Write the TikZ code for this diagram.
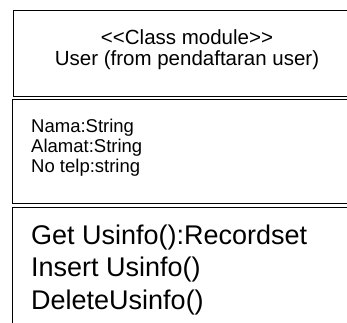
\documentclass[tikz,border=0pt]{standalone}
\usepackage{fontspec}
\setmainfont{Liberation Sans}
\begin{document}
\begin{tikzpicture}[x=1pt,y=-1pt]
\tikzset{compart/.style={draw, line width=1.3pt, anchor=north west, inner sep=0pt},
  comptext/.style={inner sep=0pt, anchor=base west, align=left}}
\useasboundingbox (0,0) rectangle (347,322);
\clip (0,0) rectangle (347,322);
\node[compart, minimum width=348pt, minimum height=86pt] (head) at (13,10) {};
\node[compart, minimum width=349pt, minimum height=104pt] (attrs) at (12,99) {};
\node[compart, minimum width=349pt, minimum height=130pt] (ops) at (12,207) {};
\node[comptext, anchor=base, align=center, font=\fontsize{20.5}{21}\selectfont] (headtext) at (187,65) {<{}<Class module>{}>\\User (from pendaftaran user)};
\node[comptext, font=\fontsize{18.5}{20}\selectfont] (attrstext) at (31,172) {Nama:String\\Alamat:String\\No telp:string};
\node[comptext, font=\fontsize{27}{32.5}\selectfont] (opstext) at (31,309) {Get Usinfo():Recordset\\Insert Usinfo()\\DeleteUsinfo()};
\end{tikzpicture}
\end{document}
